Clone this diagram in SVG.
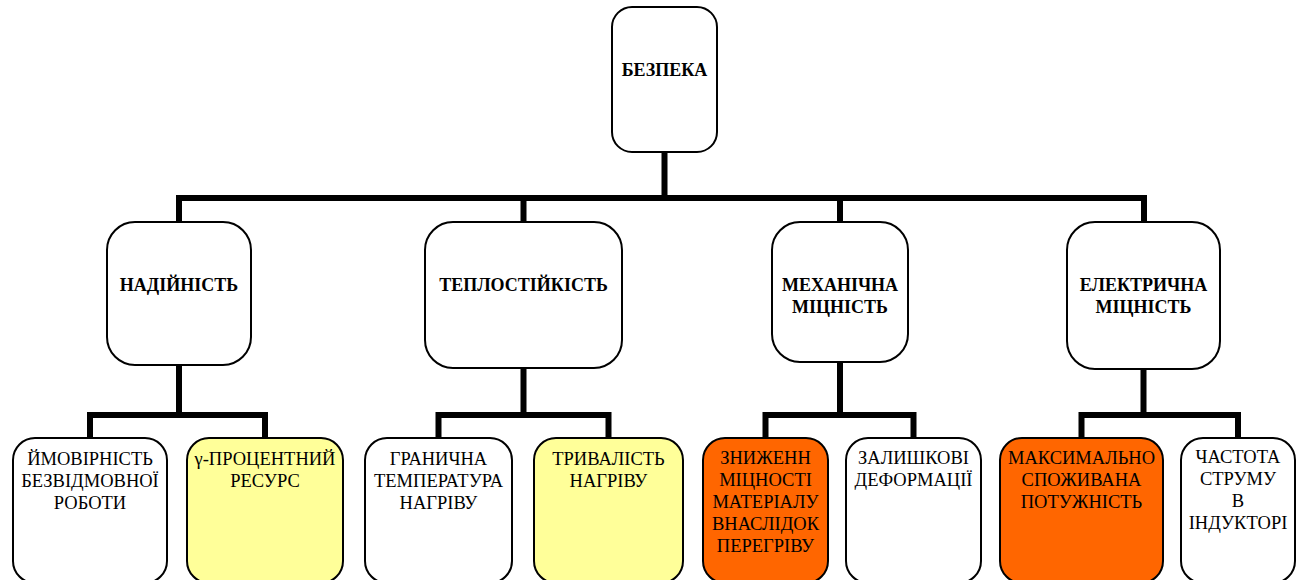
<svg xmlns="http://www.w3.org/2000/svg" width="1300" height="580" viewBox="0 0 1300 580" font-family="Liberation Serif, DejaVu Serif, serif">
<style>
.box{stroke:#000;stroke-width:2;fill:#fff}
.yel{fill:#ffff99}
.org{fill:#ff6600}
.h{font-weight:bold;font-size:18px;text-anchor:middle;fill:#000}
.t{font-size:18.5px;text-anchor:middle;fill:#000}
.c{stroke:#000;stroke-width:6;fill:none;stroke-linecap:butt;stroke-linejoin:miter}
</style>
<rect width="1300" height="580" fill="#fff"/>
<g id="connectors">
<path class="c" d="M664.5 152V198M179 222V198H1144V222M523.5 198V222M840 198V222"/>
<path class="c" d="M179 365V415M90 438V415H265V438"/>
<path class="c" d="M523.5 368V415M438.5 438V415H608.5V438"/>
<path class="c" d="M840 362V415M765.5 438V415H913.5V438"/>
<path class="c" d="M1143.5 369V415M1081.5 438V415H1238V438"/>
</g>
<g id="n-bezpeka"><rect class="box" x="612" y="7" width="105" height="145" rx="20"/><text class="h" x="664.5" y="76">БЕЗПЕКА</text></g>
<g id="n-nadiinist"><rect class="box" x="107" y="222" width="144" height="143" rx="28"/><text class="h" x="179" y="291">НАДІЙНІСТЬ</text></g>
<g id="n-teplostiikist"><rect class="box" x="425" y="222" width="197" height="146" rx="28"/><text class="h" x="523.5" y="291">ТЕПЛОСТІЙКІСТЬ</text></g>
<g id="n-mekhanichna"><rect class="box" x="772" y="222" width="136" height="140" rx="28"/><text class="h" x="840" y="291">МЕХАНІЧНА</text><text class="h" x="840" y="313">МІЦНІСТЬ</text></g>
<g id="n-elektrychna"><rect class="box" x="1067" y="222" width="153" height="147" rx="28"/><text class="h" x="1143.5" y="291">ЕЛЕКТРИЧНА</text><text class="h" x="1143.5" y="313">МІЦНІСТЬ</text></g>
<g id="n-ymovirnist"><rect class="box" x="13" y="438" width="154" height="145" rx="22"/><text class="t" x="90" y="465">ЙМОВІРНІСТЬ</text><text class="t" x="90" y="487">БЕЗВІДМОВНОЇ</text><text class="t" x="90" y="509">РОБОТИ</text></g>
<g id="n-gamma"><rect class="box yel" x="187" y="438" width="156" height="145" rx="22"/><text class="t" x="265" y="465">γ-ПРОЦЕНТНИЙ</text><text class="t" x="265" y="487">РЕСУРС</text></g>
<g id="n-granychna"><rect class="box" x="365" y="438" width="147" height="145" rx="22"/><text class="t" x="438.5" y="465">ГРАНИЧНА</text><text class="t" x="438.5" y="487">ТЕМПЕРАТУРА</text><text class="t" x="438.5" y="509">НАГРІВУ</text></g>
<g id="n-tryvalist"><rect class="box yel" x="534" y="438" width="149" height="145" rx="22"/><text class="t" x="608.5" y="465">ТРИВАЛІСТЬ</text><text class="t" x="608.5" y="487">НАГРІВУ</text></g>
<g id="n-znyzhenn"><rect class="box org" x="703" y="438" width="125" height="145" rx="22"/><text class="t" x="765.5" y="464">ЗНИЖЕНН</text><text class="t" x="765.5" y="486">МІЦНОСТІ</text><text class="t" x="765.5" y="508">МАТЕРІАЛУ</text><text class="t" x="765.5" y="530">ВНАСЛІДОК</text><text class="t" x="765.5" y="552">ПЕРЕГРІВУ</text></g>
<g id="n-zalyshkovi"><rect class="box" x="846" y="438" width="135" height="145" rx="22"/><text class="t" x="913.5" y="464">ЗАЛИШКОВІ</text><text class="t" x="913.5" y="486">ДЕФОРМАЦІЇ</text></g>
<g id="n-maksymalno"><rect class="box org" x="1000" y="438" width="163" height="145" rx="22"/><text class="t" x="1081.5" y="464">МАКСИМАЛЬНО</text><text class="t" x="1081.5" y="486">СПОЖИВАНА</text><text class="t" x="1081.5" y="508">ПОТУЖНІСТЬ</text></g>
<g id="n-chastota"><rect class="box" x="1181" y="438" width="114" height="145" rx="22"/><text class="t" x="1238" y="463">ЧАСТОТА</text><text class="t" x="1238" y="485">СТРУМУ</text><text class="t" x="1238" y="507">В</text><text class="t" x="1238" y="529">ІНДУКТОРІ</text></g>
</svg>
